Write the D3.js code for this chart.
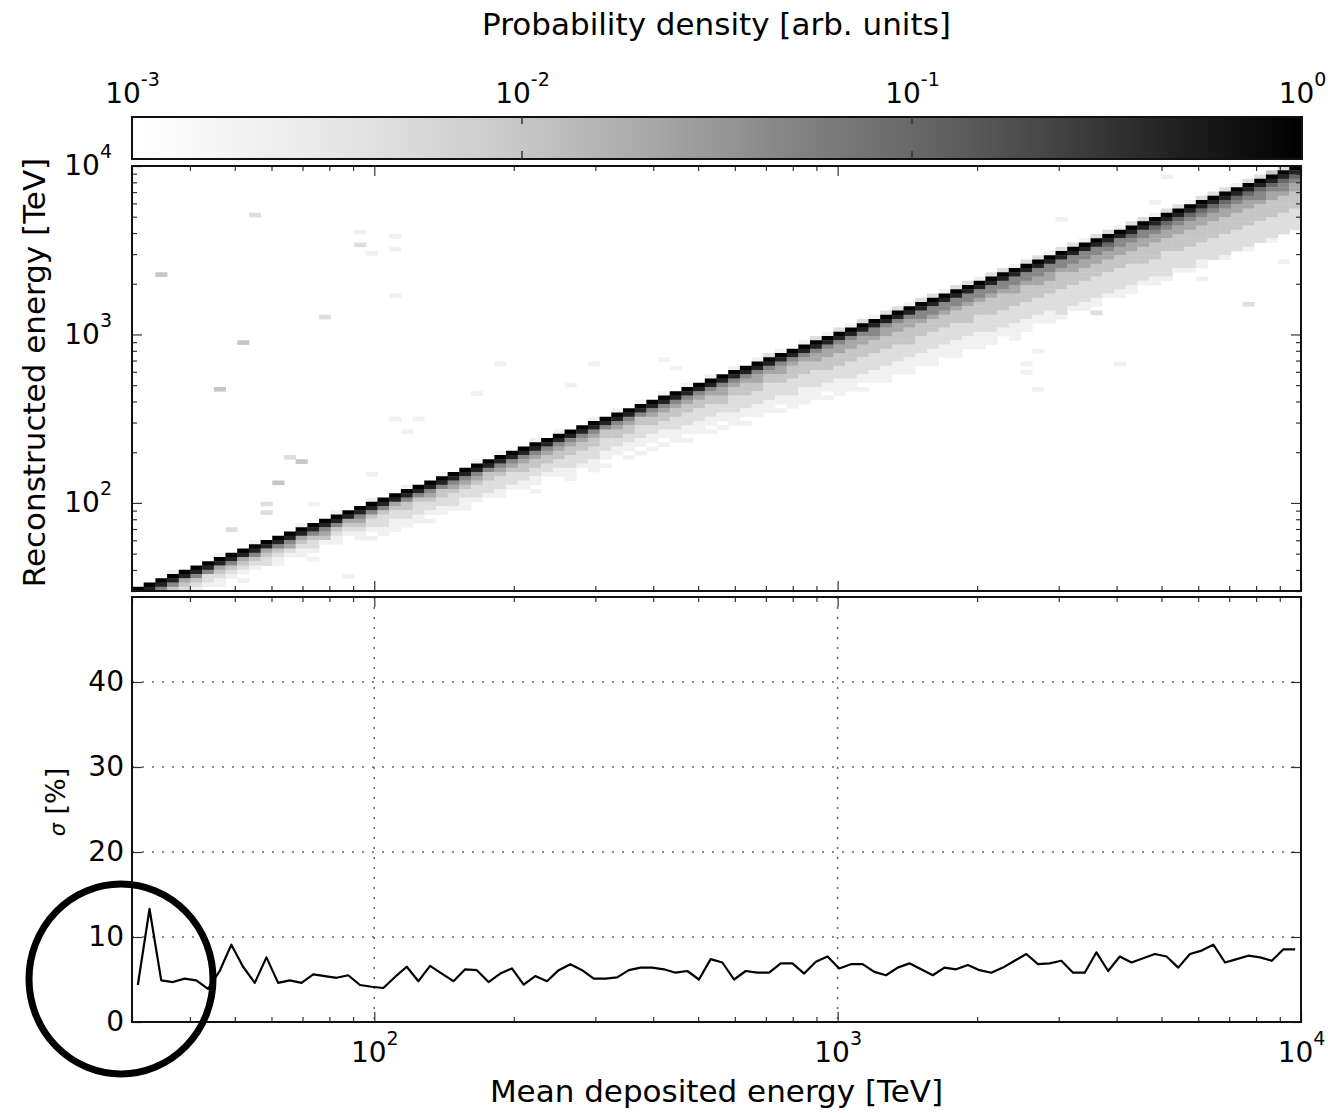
<!DOCTYPE html>
<html>
<head>
<meta charset="utf-8">
<script src="https://cdn.jsdelivr.net/npm/d3@7"></script>
<style>body{margin:0;background:#fff}</style>
</head>
<body>
<script>
// ── Datos ────────────────────────────────────────────────────────────────
const eLo = 30, eHi = 1e4, nBins = 100;

// resolución σ [%] por bin de energía depositada
const sigma = [
  4.35, 13.3, 4.9, 4.7, 5.1, 4.9, 3.9, 6.0, 9.1, 6.5,
  4.6, 7.6, 4.6, 4.9, 4.6, 5.6, 5.4, 5.2, 5.5, 4.35,
  4.15, 4.0, 5.3, 6.5, 4.8, 6.6, 5.7, 4.8, 6.2, 6.1,
  4.7, 5.7, 6.3, 4.4, 5.4, 4.8, 6.1, 6.8, 6.1, 5.1,
  5.1, 5.25, 6.1, 6.4, 6.4, 6.2, 5.8, 6.0, 5.0, 7.4,
  7.0, 5.0, 6.0, 5.8, 5.8, 6.9, 6.9, 5.7, 7.1, 7.7,
  6.3, 6.8, 6.8, 5.9, 5.5, 6.4, 6.9, 6.2, 5.5, 6.4,
  6.2, 6.7, 6.1, 5.8, 6.4, 7.2, 8.0, 6.8, 6.9, 7.2,
  5.8, 5.8, 8.2, 6.0, 7.7, 7.0, 7.5, 8.0, 7.7, 6.4,
  8.0, 8.4, 9.1, 7.0, 7.4, 7.8, 7.6, 7.2, 8.55, 8.55
];

// Columnas del histograma 2D: un string por bin de x.
// char 0 = fila i+1, char 1 = diagonal (fila i), char k = fila i-(k-1).
// dígito d -> densidad 10^(d/3 - 3)
const bandCols = [
  "0985321", "0984211", "09853211", "1985321", "0984321",
  "09853211", "0985221", "19843211", "0985321", "098432101",
  "1985321", "0984322", "09853211", "0985421", "19843211",
  "0985322101", "0985431", "19853211", "0984321", "098543211",
  "1985322101", "0985322211", "0984322111", "1985332211", "0985322211",
  "09854322101", "1985332211", "0985432221", "09854322111", "1985432221",
  "0985332221", "19854322211", "0985432221", "09854332211", "1985433221101",
  "0985433221", "19854332211", "0985433222111", "09854332221", "1985433222111",
  "0985332221101", "19854332211", "0985433221101", "1985332221101", "0985433221101",
  "1985433221101", "0985433222111", "19854332221101", "0985433222111", "19854332221101",
  "09854433221101", "19854332222111", "098543332221101", "19854433222111", "29854332222111",
  "198544332221101", "098543332222111", "198543332221111", "298544332222111", "1985443332221101",
  "2985443332221111", "1985443332222111", "29854433322221101", "1985543332222111", "29854433322221111",
  "2985443332222111", "19854433332221111", "2985543332222111", "29855433322221111", "1985543332222111",
  "29855433322221111", "2985543333222111", "19855433322221111", "29855433332222111", "2985543333222211",
  "19855443332222111", "29855433332222111", "2985544333222211", "19855443332222111", "29855433332222211",
  "2985544333222221", "19855443332222211", "29855443332222211", "2986544333222221", "19855443332222211",
  "29865443332222211", "2985544333322221", "19865443333222211", "29865443332222221", "2986544333322221",
  "19865443333222221", "29865443333222211", "2986544333322222", "29865443333222221", "1986544333322222",
  "29865443333222221", "2986554333322222", "39865443333222221", "2986554333322222", "3986544333322222"
];

// celdas aisladas [bin x, bin y, nivel]
const strays = [
  [2, 74, 3], [10, 88, 2], [9, 58, 3], [7, 47, 3], [16, 64, 2],
  [19, 84, 1], [19, 81, 2], [20, 79, 1], [22, 83, 1], [22, 80, 1],
  [22, 69, 1], [13, 31, 2], [14, 30, 3], [12, 25, 3], [11, 20, 2],
  [11, 18, 2], [15, 20, 1], [8, 14, 2], [20, 27, 1], [18, 3, 1],
  [22, 40, 1], [22, 14, 1], [24, 40, 1], [23, 37, 1], [31, 53, 1],
  [39, 53, 1], [45, 54, 1], [46, 52, 1], [29, 46, 1], [37, 48, 1],
  [79, 87, 1], [88, 97, 1], [87, 91, 1], [95, 67, 2], [91, 73, 1],
  [84, 69, 1], [84, 53, 1], [76, 53, 1], [76, 51, 1], [77, 56, 1],
  [77, 47, 1], [75, 61, 1], [75, 59, 1], [82, 65, 2], [79, 65, 2],
  [98, 77, 1]
];

const cbarTicks = [1e-3, 1e-2, 1e-1, 1];
const xMajor = [1e2, 1e3, 1e4];
const yTopMajor = [1e2, 1e3, 1e4];
const sigmaTicks = [0, 10, 20, 30, 40];

// ── Geometría ────────────────────────────────────────────────────────────
const W = 1328, H = 1113;
const L = 132, R = 1301;
const cb = {top: 117, bottom: 159};
const pTop = {top: 166, bottom: 591};
const pBot = {top: 597, bottom: 1022};
const FONT = "DejaVu Sans";
const TICK_FS = 28, LABEL_FS = 31;

const x = d3.scaleLog().domain([eLo, eHi]).range([L, R]);
const yTop = d3.scaleLog().domain([eLo, eHi]).range([pTop.bottom, pTop.top]);
const yBot = d3.scaleLinear().domain([0, 50]).range([pBot.bottom, pBot.top]);
const cbx = d3.scaleLog().domain([1e-3, 1]).range([L, R + 1]);
const color = d3.scaleSequentialLog(d3.interpolateGreys).domain([1e-3, 1]);

const edges = d3.range(nBins + 1).map(k => eLo * Math.pow(eHi / eLo, k / nBins));
const centers = d3.range(nBins).map(i => Math.sqrt(edges[i] * edges[i + 1]));
const levelToDensity = d => Math.pow(10, d / 3 - 3);

const cells = new Map();
bandCols.forEach((s, i) => {
  [...s].forEach((ch, k) => {
    const lvl = +ch;
    const j = i + 1 - k;
    if (lvl > 0 && j >= 0 && j < nBins) cells.set(`${i},${j}`, {i, j, lvl});
  });
});
strays.forEach(([i, j, lvl]) => {
  const key = `${i},${j}`;
  if (!cells.has(key) || cells.get(key).lvl < lvl) cells.set(key, {i, j, lvl});
});

const svg = d3.select("body").append("svg")
  .attr("width", W).attr("height", H)
  .style("font-family", FONT);
const defs = svg.append("defs");
svg.append("rect").attr("width", W).attr("height", H).attr("fill", "#fff");

const isMajor = d => Math.abs(Math.log10(d) - Math.round(Math.log10(d))) < 1e-9;
const minorX = x.ticks().filter(d => !isMajor(d));
const minorYTop = yTop.ticks().filter(d => !isMajor(d));

function powLabel(sel, supSize = 19, lift = -17) {
  sel.selectAll(".tick text").each(function(d) {
    const t = d3.select(this);
    t.text("10");
    t.append("tspan").attr("dy", lift).attr("font-size", supSize)
      .text(String(Math.round(Math.log10(d))));
  });
}
function styleAxis(g) {
  g.select(".domain").remove();
  g.attr("font-family", FONT).attr("font-size", TICK_FS);
  g.selectAll(".tick line").attr("stroke", "#333").attr("stroke-width", 1.2);
  g.selectAll(".tick text").attr("fill", "#000");
}

// ── Barra de color ───────────────────────────────────────────────────────
const grad = defs.append("linearGradient").attr("id", "cbar-grad")
  .attr("x1", "0").attr("x2", "1").attr("y1", "0").attr("y2", "0");
d3.range(0, 1.0001, 0.05).forEach(t => {
  grad.append("stop").attr("offset", `${t * 100}%`)
    .attr("stop-color", color(Math.pow(10, -3 + 3 * t)));
});
svg.append("rect").attr("x", L).attr("y", cb.top)
  .attr("width", R + 1 - L).attr("height", cb.bottom - cb.top)
  .attr("fill", "url(#cbar-grad)").attr("stroke", "#111").attr("stroke-width", 2);
cbarTicks.slice(1, -1).forEach(v => {
  [[cb.top, cb.top + 7], [cb.bottom, cb.bottom - 8]].forEach(([a, b]) => {
    svg.append("line").attr("x1", cbx(v)).attr("x2", cbx(v)).attr("y1", a).attr("y2", b)
      .attr("stroke", "#333").attr("stroke-width", 1.5);
  });
});
svg.append("g").attr("transform", `translate(0,${cb.top})`)
  .call(d3.axisTop(cbx).tickValues(cbarTicks).tickSize(0).tickPadding(14))
  .call(styleAxis).call(powLabel);
svg.append("text").attr("x", (L + R) / 2).attr("y", 35)
  .attr("text-anchor", "middle").attr("font-size", LABEL_FS).text("Probability density [arb. units]");

// ── Panel superior: histograma 2D ───────────────────────────────────────
defs.append("clipPath").attr("id", "top-clip")
  .append("rect").attr("x", L).attr("y", pTop.top).attr("width", R - L).attr("height", pTop.bottom - pTop.top);
svg.append("g").attr("clip-path", "url(#top-clip)")
  .selectAll("rect").data([...cells.values()]).join("rect")
  .attr("x", d => x(edges[d.i]))
  .attr("y", d => yTop(edges[d.j + 1]))
  .attr("width", d => x(edges[d.i + 1]) - x(edges[d.i]) + 0.4)
  .attr("height", d => yTop(edges[d.j]) - yTop(edges[d.j + 1]) + 0.4)
  .attr("fill", d => color(levelToDensity(d.lvl)));

svg.append("g").attr("transform", `translate(${L},0)`)
  .call(d3.axisLeft(yTop).tickValues(yTopMajor).tickSizeInner(-10).tickSizeOuter(0).tickPadding(20))
  .call(styleAxis).call(powLabel);
svg.append("g").attr("transform", `translate(${L},0)`)
  .call(d3.axisLeft(yTop).tickValues(minorYTop).tickSizeInner(-5).tickSizeOuter(0).tickFormat(""))
  .call(styleAxis);
svg.append("g").attr("transform", `translate(${R},0)`)
  .call(d3.axisRight(yTop).tickValues(yTopMajor).tickSizeInner(-10).tickSizeOuter(0).tickFormat(""))
  .call(styleAxis);
svg.append("g").attr("transform", `translate(${R},0)`)
  .call(d3.axisRight(yTop).tickValues(minorYTop).tickSizeInner(-5).tickSizeOuter(0).tickFormat(""))
  .call(styleAxis);
[[pTop.top, d3.axisTop], [pTop.bottom, d3.axisBottom]].forEach(([yy, ax]) => {
  svg.append("g").attr("transform", `translate(0,${yy})`)
    .call(ax(x).tickValues(xMajor).tickSizeInner(-10).tickSizeOuter(0).tickFormat(""))
    .call(styleAxis);
  svg.append("g").attr("transform", `translate(0,${yy})`)
    .call(ax(x).tickValues(minorX).tickSizeInner(-5).tickSizeOuter(0).tickFormat(""))
    .call(styleAxis);
});
svg.append("rect").attr("x", L).attr("y", pTop.top)
  .attr("width", R - L).attr("height", pTop.bottom - pTop.top)
  .attr("fill", "none").attr("stroke", "#111").attr("stroke-width", 2);
svg.append("text").attr("transform", `translate(34,${(pTop.top + pTop.bottom) / 2 - 6}) rotate(-90)`)
  .attr("text-anchor", "middle").attr("dy", "0.35em").attr("font-size", LABEL_FS)
  .text("Reconstructed energy [TeV]");

// ── Panel inferior: resolución ──────────────────────────────────────────
const gGrid = svg.append("g").attr("stroke", "#666").attr("stroke-width", 1.5)
  .attr("stroke-dasharray", "2,8");
sigmaTicks.slice(1).forEach(v => {
  gGrid.append("line").attr("x1", L).attr("x2", R).attr("y1", yBot(v)).attr("y2", yBot(v));
});
xMajor.slice(0, -1).forEach(v => {
  gGrid.append("line").attr("x1", x(v)).attr("x2", x(v)).attr("y1", pBot.top).attr("y2", pBot.bottom);
});

svg.append("path").datum(sigma)
  .attr("fill", "none").attr("stroke", "#000").attr("stroke-width", 2.2)
  .attr("stroke-linejoin", "round")
  .attr("d", d3.line().x((d, i) => x(centers[i])).y(d => yBot(d)));

svg.append("g").attr("transform", `translate(${L},0)`)
  .call(d3.axisLeft(yBot).tickValues(sigmaTicks).tickSizeInner(-10).tickSizeOuter(0).tickPadding(8))
  .call(styleAxis);
svg.append("g").attr("transform", `translate(${R},0)`)
  .call(d3.axisRight(yBot).tickValues(sigmaTicks).tickSizeInner(-10).tickSizeOuter(0).tickFormat(""))
  .call(styleAxis);
svg.append("g").attr("transform", `translate(0,${pBot.bottom})`)
  .call(d3.axisBottom(x).tickValues(xMajor).tickSizeInner(-10).tickSizeOuter(0).tickPadding(20))
  .call(styleAxis).call(powLabel);
[[pBot.top, d3.axisTop], [pBot.bottom, d3.axisBottom]].forEach(([yy, ax]) => {
  svg.append("g").attr("transform", `translate(0,${yy})`)
    .call(ax(x).tickValues(minorX).tickSizeInner(-5).tickSizeOuter(0).tickFormat(""))
    .call(styleAxis);
});
svg.append("g").attr("transform", `translate(0,${pBot.top})`)
  .call(d3.axisTop(x).tickValues(xMajor).tickSizeInner(-10).tickSizeOuter(0).tickFormat(""))
  .call(styleAxis);
svg.append("rect").attr("x", L).attr("y", pBot.top)
  .attr("width", R - L).attr("height", pBot.bottom - pBot.top)
  .attr("fill", "none").attr("stroke", "#111").attr("stroke-width", 2);

const sl = svg.append("text").attr("transform", `translate(56,802) rotate(-90)`)
  .attr("text-anchor", "middle").attr("dy", "0.35em").attr("font-size", 27);
sl.append("tspan").attr("font-style", "italic").attr("font-size", 21).text("σ");
sl.append("tspan").text(" [%]");

svg.append("text").attr("x", (L + R) / 2).attr("y", 1102)
  .attr("text-anchor", "middle").attr("font-size", LABEL_FS).text("Mean deposited energy [TeV]");

// círculo de anotación
svg.append("ellipse").attr("cx", 121).attr("cy", 979).attr("rx", 92).attr("ry", 95)
  .attr("fill", "none").attr("stroke", "#000").attr("stroke-width", 7);
</script>
</body>
</html>
